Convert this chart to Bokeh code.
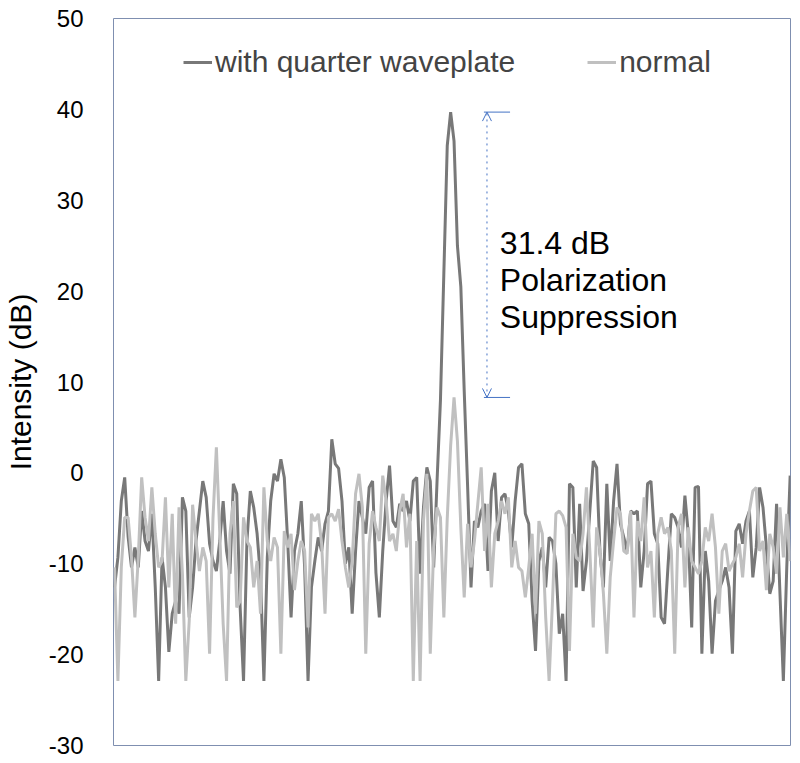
from bokeh.plotting import figure
from bokeh.models import Range1d, FixedTicker, Legend, LegendItem, Arrow, OpenHead
from bokeh.embed import file_html
from bokeh.resources import INLINE
from bokeh.core.properties import value

# ---- data ----
series_names = ["with quarter waveplate", "normal"]

quarter_waveplate = [
    -12.6, -9.3, -3.1, -0.5, -7.0, -10.4, -8.2, -10.4, -4.2, -7.5,
    -8.6, -4.5, -12.6, -22.9, -9.3, -12.6, -19.7, -15.5, -14.1, -15.5,
    -2.7, -4.2, -15.9, -12.6, -7.5, -4.2, -0.9, -2.7, -7.8, -9.7,
    -10.8, -7.5, -3.1, -8.6, -11.1, -1.2, -2.3, -14.8, -22.9, -7.5,
    -2.0, -3.8, -6.7, -11.5, -22.9, -9.3, -3.1, -0.1, -0.9, 1.5,
    -0.5, -7.5, -15.9, -8.6, -6.7, -3.1, -10.4, -22.9, -12.6, -9.7,
    -7.1, -8.6, -5.6, -4.2, 3.7, 1.0, 0.5, -3.1, -10.0, -8.2,
    -15.5, -8.6, -3.1, -4.9, -6.7, -1.6, -0.9, -11.0, -15.9, -8.6,
    -3.1, 0.8, -5.3, -6.0, -3.4, -4.2, -3.1, -5.3, -0.9, -0.5,
    -11.1, -3.8, 0.6, -0.9, -10.4, -0.9, 8.0, 22.0, 36.0, 39.7,
    36.5, 25.0, 20.5, 9.0, -1.5, -12.6, -5.3, -6.0, -4.2, -3.4,
    -10.8, -2.0, 0.0, -7.5, -2.7, -2.3, -4.2, -8.2, -3.1, 0.6,
    1.0, -4.5, -5.6, -14.1, -19.6, -9.7, -8.2, -12.6, -7.1, -7.5,
    -10.0, -17.7, -15.5, -22.9, -1.2, -1.6, -12.6, -3.4, -13.0, -9.7,
    -4.2, 1.3, 0.6, -8.9, -12.6, -1.2, -9.7, -3.1, 1.0, -5.6,
    -7.1, -8.6, -4.2, -4.5, -4.2, -12.6, -8.6, -1.2, -0.9, -6.7,
    -7.8, -15.9, -16.6, -10.4, -4.5, -4.9, -6.0, -8.2, -2.5, -6.7,
    -17.0, -1.6, -1.5, -19.9, -8.6, -11.9, -19.9, -14.1, -12.9, -11.9,
    -10.4, -12.6, -19.9, -6.4, -5.6, -7.8, -5.3, -4.2, -11.5, -8.2,
    -1.6, -3.8, -8.2, -13.3, -11.9, -3.4, -13.3, -22.9, -10.4, -0.3,
]

normal = [
    -10.4, -22.9, -10.4, -4.9, -4.9, -9.3, -15.9, -9.3, -0.5, -4.9,
    -7.5, -1.6, -6.7, -10.4, -9.7, -2.7, -12.6, -4.5, -16.6, -3.8,
    -11.1, -22.9, -16.3, -3.5, -7.5, -10.8, -8.2, -9.7, -19.9, -5.0,
    2.8, -6.7, -16.6, -22.9, -6.7, -3.1, -14.8, -14.1, -4.9, -7.5,
    -8.2, -12.6, -9.7, -15.5, -1.6, -7.5, -9.7, -7.1, -8.2, -19.9,
    -6.4, -8.2, -6.7, -12.9, -9.7, -7.5, -8.6, -17.0, -4.5, -5.3,
    -4.5, -7.8, -15.5, -4.9, -4.5, -5.3, -4.0, -7.5, -10.4, -12.6,
    -9.7, -2.3, -0.1, -3.8, -19.9, -7.8, -4.2, -6.0, -7.5, -0.3,
    -3.1, -7.5, -6.7, -8.6, -4.2, -2.3, -8.2, -4.5, -22.9, -7.5,
    -22.9, -5.3, -0.1, -19.9, -8.2, -3.8, -4.9, -15.9, -5.0, 3.0,
    8.3, 3.5, -6.0, -13.7, -5.6, -10.4, -7.5, -3.4, 0.6, -8.6,
    -3.4, -12.6, -6.7, -5.3, -3.1, -4.5, -2.7, -10.4, -7.5, -10.4,
    -10.8, -13.7, -10.4, -6.7, -15.5, -5.3, -6.7, -15.9, -22.9, -14.1,
    -4.5, -4.2, -4.7, -6.0, -19.6, -6.7, -9.3, -9.7, -6.7, -1.6,
    -8.6, -17.0, -6.0, -8.6, -13.3, -19.9, -11.5, -7.5, -3.8, -4.5,
    -8.6, -8.9, -4.2, -15.9, -5.3, -7.5, -2.7, -10.4, -8.6, -15.9,
    -6.7, -4.9, -6.7, -6.0, -8.6, -19.9, -6.0, -4.5, -12.6, -6.0,
    -9.7, -10.4, -11.1, -9.7, -6.0, -7.5, -4.5, -8.2, -15.5, -8.6,
    -7.8, -10.8, -10.0, -9.3, -7.8, -11.5, -6.7, -4.2, -2.0, -1.6,
    -8.6, -7.5, -12.9, -6.7, -8.2, -11.1, -3.8, -9.3, -4.5, -9.7,
]

y_ticks = [-30, -20, -10, 0, 10, 20, 30, 40, 50]
y_tick_labels = ["-30", "-20", "-10", "0", "10", "20", "30", "40", "50"]
y_title = "Intensity (dB)"

peak_quarter = 39.7
peak_normal = 8.3
note_lines = ["31.4 dB", "Polarization", "Suppression"]

# ---- styling ----
FONT = "Liberation Sans"
DARK = "#787878"
LIGHT = "#c0c0c0"
BLUE = "#4472c4"

x = list(range(len(quarter_waveplate)))

p = figure(width=800, height=763, output_backend="svg", toolbar_location=None,
           x_range=Range1d(-0.3, len(x) - 0.9), y_range=Range1d(-30, 50),
           min_border_left=113, min_border_right=10, min_border_top=18,
           min_border_bottom=18)

p.xaxis.visible = False
p.xgrid.visible = False
p.ygrid.visible = False
p.outline_line_color = "#7f8fb0"
p.outline_line_width = 1

ya = p.yaxis[0]
ya.ticker = FixedTicker(ticks=y_ticks)
ya.major_label_overrides = {t: s for t, s in zip(y_ticks, y_tick_labels)}
ya.axis_line_color = None
ya.major_tick_line_color = None
ya.minor_tick_line_color = None
ya.major_label_text_font = FONT
ya.major_label_text_font_size = "24px"
ya.major_label_text_color = "black"
ya.major_label_standoff = 24
ya.axis_label = y_title
ya.axis_label_text_font = FONT
ya.axis_label_text_font_size = "30px"
ya.axis_label_text_font_style = "normal"
ya.axis_label_text_color = "black"
ya.axis_label_standoff = 9

r_dark = p.line(x, quarter_waveplate, line_color=DARK, line_width=3)
r_light = p.line(x, normal, line_color=LIGHT, line_width=3)

legend = Legend(items=[LegendItem(label=series_names[0], renderers=[r_dark]),
                       LegendItem(label=series_names[1], renderers=[r_light])],
                orientation="horizontal", location=(70, 666),
                border_line_color=None, background_fill_alpha=0,
                label_text_font=FONT, label_text_font_size="30px",
                glyph_width=29, label_standoff=3, spacing=72,
                padding=0, margin=0)
p.add_layout(legend)

# annotation: arrow and bars
ax = 109.7
p.segment(x0=[108.8, 108.8], x1=[116.5, 116.5], y0=[peak_quarter, peak_normal],
          y1=[peak_quarter, peak_normal], line_color=BLUE, line_width=1)
p.add_layout(Arrow(x_start=ax, y_start=peak_normal, x_end=ax, y_end=peak_quarter,
                   line_color=BLUE, line_width=1, line_dash="dotted",
                   start=OpenHead(size=9, line_color=BLUE, line_width=1),
                   end=OpenHead(size=9, line_color=BLUE, line_width=1)))

p.text(x=[113.5], y=[27.3], text=["\n".join(note_lines)],
       text_font=value(FONT), text_font_size="32px", text_color="black",
       text_baseline="top", text_align="left", text_line_height=1.03)

open("out.html", "w").write(file_html(p, INLINE))
